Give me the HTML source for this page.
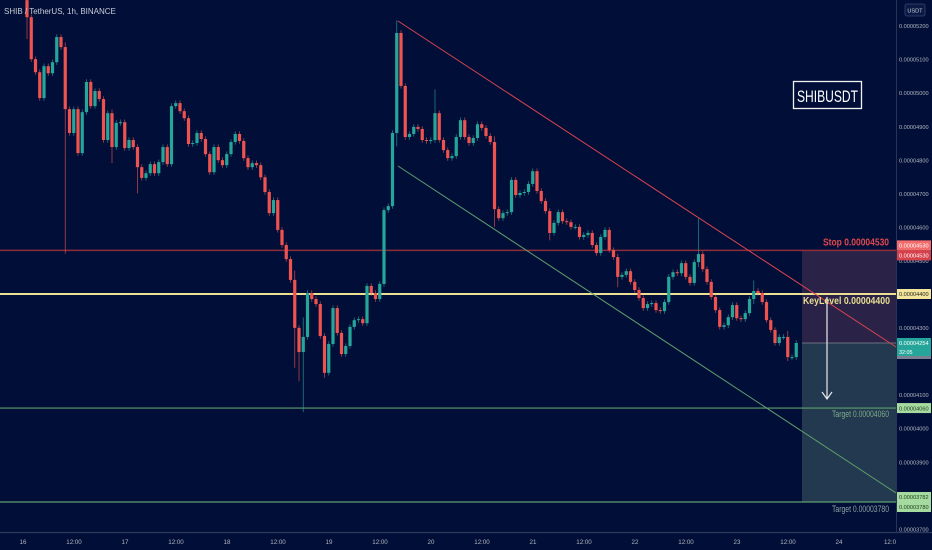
<!DOCTYPE html>
<html><head><meta charset="utf-8">
<style>
html,body{margin:0;padding:0;background:#010f38;}
svg{display:block;font-family:"Liberation Sans",sans-serif;}
</style></head>
<body>
<svg id="chart" width="932" height="550" viewBox="0 0 932 550" xmlns="http://www.w3.org/2000/svg">
<rect x="0" y="0" width="932" height="550" fill="#010f38"/>
<g id="zones"></g>
<g id="hlines"></g>
<g id="candles"></g>
<g id="overlay"></g>
<g id="axis"></g>
</svg>
<script>
// ---- data (prices in units of 1e-8 USDT) ----
const firstOpen = 5276;
const closes = [5225,5100,5061,4984,5079,5058,5091,5166,5136,4951,4880,4951,4820,4942,5032,4960,5005,4981,4859,4939,4838,4910,4912,4835,4859,4838,4778,4746,4760,4787,4760,4793,4838,4787,4960,4969,4945,4924,4847,4850,4880,4862,4817,4763,4838,4799,4784,4817,4853,4877,4856,4805,4778,4790,4784,4748,4704,4641,4680,4591,4546,4504,4442,4299,4227,4272,4403,4385,4370,4275,4165,4251,4358,4284,4221,4245,4302,4322,4325,4313,4424,4403,4385,4430,4650,4662,4880,5178,5020,4868,4877,4898,4892,4859,4856,4859,4939,4859,4829,4805,4811,4868,4918,4868,4850,4865,4906,4895,4871,4853,4653,4626,4641,4644,4740,4695,4701,4704,4728,4766,4707,4677,4647,4582,4612,4644,4617,4614,4600,4600,4570,4576,4582,4546,4522,4570,4591,4531,4510,4451,4457,4468,4436,4412,4388,4358,4370,4373,4352,4349,4376,4451,4465,4462,4492,4451,4433,4495,4519,4474,4436,4391,4352,4302,4307,4331,4367,4328,4325,4343,4385,4409,4403,4376,4322,4293,4254,4272,4272,4212,4212,4254];
// notable wicks: candle index, high, low
const wickIdx  = [0,   9,   20,  26,  63,  64,  65,  70,  87,  96,  110, 123, 139, 158, 171, 179];
const wickHigh = [5330,5150,4950,4830,4470,4300,4330,4230,5216,5010,4870,4650,4520,4626,4440,4290];
const wickLow  = [5160,4520,4790,4700,4180,4140,4048,4150,4840,4900,4600,4560,4420,4480,4370,4200];
const levels = [4530,4400,4060,3780];
const priceTicks = [5200,5100,5000,4900,4800,4700,4600,4500,4300,4100,4000,3900,3700];
const timeLabels = ["16","12:00","17","12:00","18","12:00","19","12:00","20","12:00","21","12:00","22","12:00","23","12:00","24","12:0"];

// ---- scales ----
const y = p => 294 - (p - 4400) * 0.3355;
const xi = i => 27 + i * 4.25;
const NS = "http://www.w3.org/2000/svg";
function mk(tag, attrs, parent){const e=document.createElementNS(NS,tag);for(const k in attrs)e.setAttribute(k,attrs[k]);parent.appendChild(e);return e;}
const gZ=document.getElementById('zones'),gH=document.getElementById('hlines'),gC=document.getElementById('candles'),gO=document.getElementById('overlay'),gA=document.getElementById('axis');

// position zones
let z1=mk('rect',{x:802,y:y(4530),width:94,height:y(4254)-y(4530),fill:'#2b2347'},gZ);


let z2=mk('rect',{x:802,y:y(4254),width:94,height:y(3780)-y(4254),fill:'#22394f'},gZ);


let zl=mk('line',{x1:802,x2:896,y1:y(4254),y2:y(4254),stroke:'#6b7080','stroke-width':1},gZ);



// horizontal levels
const lvlColors=['#8e2c3c','#eadf92','#5f9e6e','#5f9e6e'];
const lvlW=[1.5,2,1.2,1.2];
const lvlNames=['stop-line','keylevel-line','target1-line','target2-line'];
levels.forEach((p,k)=>{
  const l=mk('line',{x1:0,x2:896,y1:y(p),y2:y(p),stroke:lvlColors[k],'stroke-width':lvlW[k]},gH);
  
  
});

// candles
closes.forEach((c,i)=>{
  const o = i===0 ? firstOpen : closes[i-1];
  const up = c >= o;
  const col = up ? '#26a69a' : '#ef5350';
  let hi=Math.max(o,c)+8, lo=Math.min(o,c)-8;
  const w=wickIdx.indexOf(i);
  if(w>=0){hi=Math.max(hi,wickHigh[w]);lo=Math.min(lo,wickLow[w]);}
  const x=xi(i);
  const wk=mk('line',{x1:x,x2:x,y1:y(hi),y2:y(lo),stroke:col,'stroke-width':0.8,opacity:0.75},gC);
  
  
  const top=y(Math.max(o,c)), h=Math.max(1,y(Math.min(o,c))-top);
  const b=mk('rect',{x:x-1.6,y:top,width:3.2,height:h,fill:col},gC);
  
  
});

// trend lines
let tr=mk('line',{x1:398,y1:21,x2:896,y2:347,stroke:'#d9434f','stroke-width':1},gO);


let tg=mk('line',{x1:398,y1:166,x2:896,y2:493,stroke:'#5f9e6e','stroke-width':1},gO);


// arrow
let ar=mk('path',{d:'M827 297 L827 399 M822 392 L827 399 L832 392',stroke:'#e8e8ee','stroke-width':1.2,fill:'none'},gO);



// level labels
function txt(s,attrs,parent,name,inter){const t=mk('text',attrs,parent);t.textContent=s;return t;}
txt('Stop 0.00004530',{x:823,y:y(4530)-5,textLength:66,lengthAdjust:'spacingAndGlyphs','font-size':10,fill:'#e0474d','font-weight':'bold'},gO,'stop-label','false');
txt('KeyLevel 0.00004400',{x:803,y:y(4400)+10,textLength:87,lengthAdjust:'spacingAndGlyphs','font-size':10,fill:'#eadf92','font-weight':'bold'},gO,'keylevel-label','false');
txt('Target 0.00004060',{x:832,y:y(4060)+9,textLength:57,lengthAdjust:'spacingAndGlyphs','font-size':9,fill:'#7fa98a'},gO,'target1-label','false');
txt('Target 0.00003780',{x:832,y:y(3780)+10,textLength:57,lengthAdjust:'spacingAndGlyphs','font-size':9,fill:'#8aa3a0'},gO,'target2-label','false');

// symbol box
let sb=mk('rect',{x:793.5,y:81.5,width:68,height:27,fill:'#010f38',stroke:'#f2f2f2','stroke-width':1.3},gO);


txt('SHIBUSDT',{x:797,y:102,textLength:61,lengthAdjust:'spacingAndGlyphs','font-size':17,fill:'#ffffff'},gO,'symbol-label','false');
txt('SHIB / TetherUS, 1h, BINANCE',{x:4,y:14,'font-size':8,fill:'#c8ccd6'},gO,'chart-title','false');

// right axis
let sep=mk('line',{x1:896.5,x2:896.5,y1:0,y2:532,stroke:'#2a3356','stroke-width':1},gA);


priceTicks.forEach(p=>{
  txt('0.0000'+p,{x:899,y:y(p)+2.5,'font-size':5.6,fill:'#b2b5be'},gA,'price-tick-label','false');
});
let ub=mk('rect',{x:905,y:4,width:20,height:12,rx:2,fill:'#0b1a44',stroke:'#3a4570','stroke-width':0.8},gA);


txt('USDT',{x:915,y:12.5,'text-anchor':'middle','font-size':5.6,fill:'#d0d3dc'},gA,'currency-label','false');

const tags=[[4530,-5,'#f26c6c','#ffffff','0.00004530'],[4530,5,'#d6404a','#ffffff','0.00004530'],[4400,0,'#f2e49a','#222','0.00004400'],[4254,0,'#26a69a','#ffffff','0.00004254'],[4245,8,'#7b8090','#ffffff','0.00004245'],[4060,0,'#a6dba0','#1a3a1a','0.00004060'],[3780,-5,'#a6dba0','#1a3a1a','0.00003782'],[3780,5,'#a6dba0','#1a3a1a','0.00003780']];
tags.forEach(t=>{
  const cy=y(t[0])+t[1];
  const r=mk('rect',{x:897,y:cy-5,width:34,height:10,fill:t[2]},gA);
  
  
  txt(t[4],{x:899,y:cy+2.2,'font-size':5.6,fill:t[3]},gA,'price-tag-label','false');
});
let cd=mk('rect',{x:897,y:y(4254)+5,width:34,height:8,fill:'#26a69a'},gA);


txt('32:05',{x:899,y:y(4254)+11,'font-size':5.4,fill:'#ffffff'},gA,'countdown-label','false');

// x axis
let xa=mk('line',{x1:0,x2:932,y1:532.5,y2:532.5,stroke:'#2f3a5e','stroke-width':1.2},gA);


timeLabels.forEach((s,k)=>{
  txt(s,{x:23+k*51,y:544,'text-anchor':'middle','font-size':6.2,fill:'#b2b5be'},gA,'time-tick-label','false');
});
</script>
</body></html>
